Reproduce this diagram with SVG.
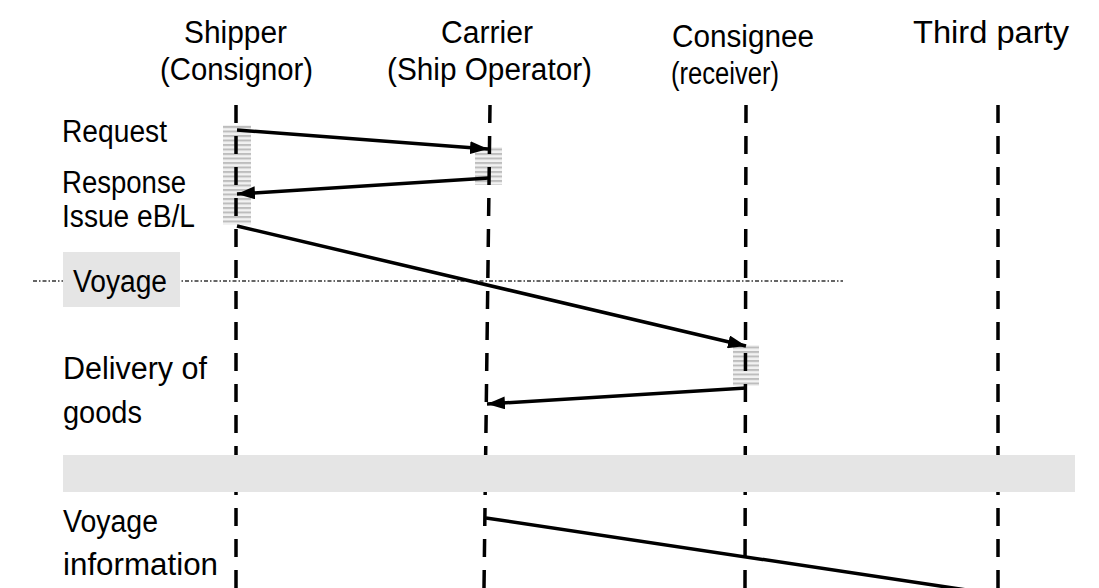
<svg xmlns="http://www.w3.org/2000/svg" width="1099" height="588" viewBox="0 0 1099 588">
  <style>
    .t { font-family: "Liberation Sans", Arial, sans-serif; font-size: 31px; fill: #000; }
    .life { stroke: #000; stroke-width: 3.5; stroke-dasharray: 18 13; fill: none; }
    .msg { stroke: #000; stroke-width: 3.5; fill: none; marker-end: url(#arrow); }
    .act { fill: url(#hatch); }
    .band { fill: #e5e5e5; }
    .divider { stroke: #333; stroke-width: 1.3; stroke-dasharray: 4 2 1.5 2; fill: none; }
  </style>
  <defs>
    <pattern id="hatch" patternUnits="userSpaceOnUse" width="8" height="4.5">
      <rect width="8" height="4.5" fill="#f2f2f2"/>
      <rect y="0" width="8" height="2" fill="#bdbdbd"/>
    </pattern>
    <marker id="arrow" markerUnits="userSpaceOnUse" viewBox="0 0 18 13" refX="18" refY="6.5" markerWidth="18" markerHeight="13" orient="auto">
      <path d="M0,0 L18,6.5 L0,13 Z" fill="#000"/>
    </marker>
  </defs>

  <rect width="1099" height="588" fill="#fff"/>

  <!-- Voyage phase separator -->
  <g id="voyage-divider">
    <line class="divider" x1="33" y1="281" x2="843" y2="281"/>
    <rect class="band" x="63" y="252" width="117" height="55"/>
    <text class="t" x="73" y="292" textLength="94" lengthAdjust="spacingAndGlyphs">Voyage</text>
  </g>

  <!-- Activation bars -->
  <g id="activations">
    <rect class="act" x="223" y="125" width="28" height="100"/>
    <rect class="act" x="475" y="147" width="27" height="38"/>
    <rect class="act" x="733" y="345" width="26" height="41"/>
  </g>

  <!-- Participants with lifelines -->
  <g id="shipper">
    <text class="t" x="235.5" y="43" text-anchor="middle" textLength="103" lengthAdjust="spacingAndGlyphs">Shipper</text>
    <text class="t" x="236.5" y="80" text-anchor="middle" textLength="153" lengthAdjust="spacingAndGlyphs">(Consignor)</text>
    <line class="life" x1="236" y1="105" x2="236" y2="588"/>
  </g>
  <g id="carrier">
    <text class="t" x="487" y="43" text-anchor="middle" textLength="92" lengthAdjust="spacingAndGlyphs">Carrier</text>
    <text class="t" x="489.5" y="80" text-anchor="middle" textLength="205" lengthAdjust="spacingAndGlyphs">(Ship Operator)</text>
    <line class="life" x1="490" y1="105" x2="484" y2="588"/>
  </g>
  <g id="consignee">
    <text class="t" x="672" y="47" textLength="142" lengthAdjust="spacingAndGlyphs">Consignee</text>
    <text class="t" x="671" y="84" textLength="108" lengthAdjust="spacingAndGlyphs">(receiver)</text>
    <line class="life" x1="746" y1="105" x2="745" y2="588"/>
  </g>
  <g id="third-party">
    <text class="t" x="913" y="43" textLength="156" lengthAdjust="spacingAndGlyphs">Third party</text>
    <line class="life" x1="998" y1="105" x2="998" y2="588"/>
  </g>

  <!-- Phase band between delivery and voyage information -->
  <rect id="phase-band" class="band" x="63" y="455" width="1012" height="37"/>

  <!-- Step labels -->
  <g id="labels">
    <text class="t" x="62" y="142" textLength="105" lengthAdjust="spacingAndGlyphs">Request</text>
    <text class="t" x="62" y="193" textLength="124" lengthAdjust="spacingAndGlyphs">Response</text>
    <text class="t" x="62" y="227" textLength="133" lengthAdjust="spacingAndGlyphs">Issue eB/L</text>
    <text class="t" x="63" y="379" textLength="144" lengthAdjust="spacingAndGlyphs">Delivery of</text>
    <text class="t" x="63" y="423" textLength="79" lengthAdjust="spacingAndGlyphs">goods</text>
    <text class="t" x="63" y="532" textLength="95" lengthAdjust="spacingAndGlyphs">Voyage</text>
    <text class="t" x="63" y="575" textLength="155" lengthAdjust="spacingAndGlyphs">information</text>
  </g>

  <!-- Messages -->
  <g id="connectors">
    <line class="msg" x1="237" y1="130" x2="488" y2="149"/>
    <line class="msg" x1="489" y1="178" x2="237" y2="194"/>
    <line class="msg" x1="237" y1="226" x2="746" y2="346"/>
    <line class="msg" x1="746" y1="388" x2="487" y2="404"/>
    <line x1="486" y1="518" x2="1000" y2="595" stroke="#000" stroke-width="3.5"/>
  </g>
</svg>
